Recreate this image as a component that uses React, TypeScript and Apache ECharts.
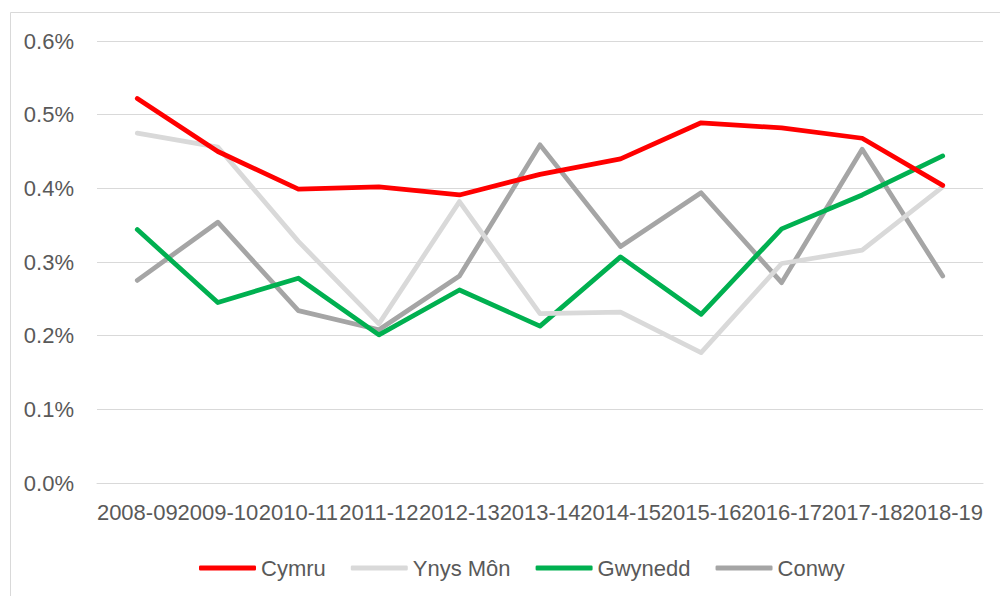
import React, { useEffect, useRef } from "react";
import * as echarts from "echarts";

const categories = ["2008-09", "2009-10", "2010-11", "2011-12", "2012-13", "2013-14", "2014-15", "2015-16", "2016-17", "2017-18", "2018-19"];
const cymru = [0.522, 0.450, 0.399, 0.402, 0.391, 0.419, 0.440, 0.489, 0.482, 0.468, 0.404];
const ynysMon = [0.475, 0.456, 0.328, 0.216, 0.382, 0.230, 0.232, 0.177, 0.298, 0.316, 0.402];
const gwynedd = [0.344, 0.245, 0.278, 0.201, 0.262, 0.213, 0.307, 0.229, 0.345, 0.391, 0.444];
const conwy = [0.275, 0.354, 0.234, 0.208, 0.281, 0.459, 0.321, 0.394, 0.272, 0.453, 0.281];
const seriesNames = ["Cymru", "Ynys Môn", "Gwynedd", "Conwy"];
const seriesColors = ["#FF0000", "#D9D9D9", "#00B050", "#A5A5A5"];

const FONT = "Liberation Sans";
const TEXT = "#595959";

export default function App() {
  const ref = useRef<HTMLDivElement>(null);
  useEffect(() => {
    if (!ref.current) return;
    const chart = echarts.init(ref.current, undefined, { renderer: "svg" });
    const datasets = [cymru, ynysMon, gwynedd, conwy];
    chart.setOption({
      animation: false,
      backgroundColor: "#ffffff",
      textStyle: { fontFamily: FONT, color: TEXT },
      graphic: [
        {
          type: "rect",
          shape: { x: 10.5, y: 12.5, width: 1000, height: 600 },
          style: { fill: "none", stroke: "#D9D9D9", lineWidth: 1 },
          silent: true,
        },
      ],
      grid: { left: 97, right: 17, top: 41, bottom: 113, containLabel: false },
      legend: {
        left: 194,
        top: 552,
        icon: "roundRect",
        itemWidth: 57,
        itemHeight: 5,
        itemGap: 25,
        textStyle: { fontFamily: FONT, fontSize: 22, color: TEXT },
        data: seriesNames,
      },
      xAxis: {
        type: "category",
        data: categories,
        boundaryGap: true,
        axisLine: { show: true, lineStyle: { color: "#D9D9D9", width: 1 } },
        axisTick: { show: false },
        axisLabel: {
          interval: 0,
          hideOverlap: false,
          margin: 18,
          fontFamily: FONT,
          fontSize: 22,
          color: TEXT,
        },
      },
      yAxis: {
        type: "value",
        min: 0,
        max: 0.6,
        interval: 0.1,
        axisLine: { show: false },
        axisTick: { show: false },
        splitLine: { show: true, lineStyle: { color: "#D9D9D9", width: 1 } },
        axisLabel: {
          margin: 23,
          fontFamily: FONT,
          fontSize: 22,
          color: TEXT,
          formatter: (v: number) => v.toFixed(1) + "%",
        },
      },
      series: seriesNames.map((name, i) => ({
        name,
        type: "line",
        data: datasets[i],
        symbol: "none",
        showSymbol: false,
        color: seriesColors[i],
        itemStyle: { color: seriesColors[i] },
        lineStyle: { color: seriesColors[i], width: 4.75, cap: "round", join: "round" },
        z: 10 - i,
      })),
    });
    return () => chart.dispose();
  }, []);
  return (
    <div
      ref={ref}
      style={{ position: "fixed", left: 0, top: 0, width: 1000, height: 596 }}
    />
  );
}
